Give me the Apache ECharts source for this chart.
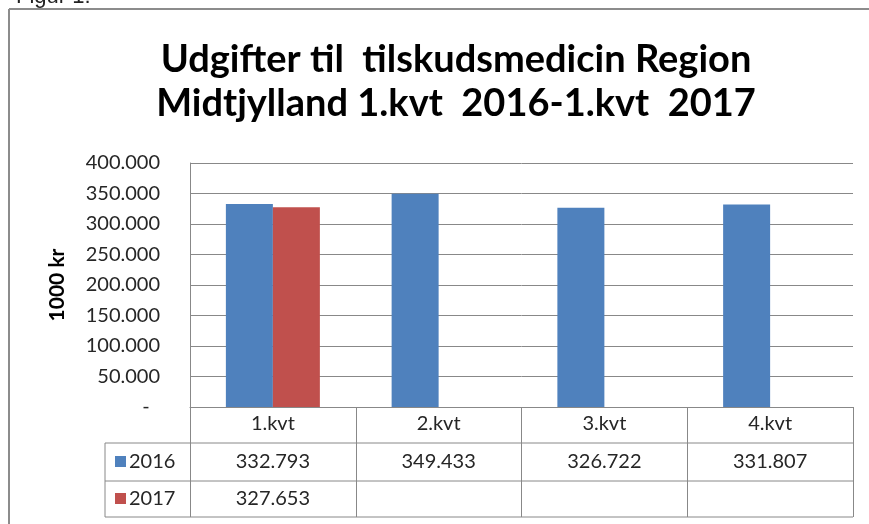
<!DOCTYPE html>
<html>
<head>
<meta charset="utf-8">
<script src="https://cdn.jsdelivr.net/npm/echarts@6/dist/echarts.min.js"></script>
<style>
html, body { margin: 0; padding: 0; background: #fff; }
#main { width: 869px; height: 524px; }
</style>
</head>
<body>
<div id="main"></div>
<script>
// data
var categories = ['1.kvt', '2.kvt', '3.kvt', '4.kvt'];
var seriesNames = ['2016', '2017'];
var values2016 = [332793, 349433, 326722, 331807];
var values2017 = [327653, null, null, null];
var colors = ['#4F81BD', '#C0504D'];

var gridColor = '#888888';
var textColor = '#262626';

// 350000 -> "350.000"
function fmt(v) {
    if (v == null) return '';
    return String(v).replace(/\B(?=(\d{3})+(?!\d))/g, '.');
}

var myChart = echarts.init(document.getElementById('main'));

myChart.setOption({
    animation: false,
    title: {
        text: 'Udgifter til  tilskudsmedicin Region\nMidtjylland 1.kvt  2016-1.kvt  2017',
        left: 451,
        top: 33,
        textAlign: 'center',
        textStyle: {
            fontFamily: 'Lato',
            fontWeight: 'bold',
            fontSize: 38,
            lineHeight: 44,
            color: '#000'
        }
    },
    grid: {
        left: 190,
        right: 16,
        top: 163,
        bottom: 117
    },
    xAxis: {
        type: 'category',
        data: categories,
        axisLine: { lineStyle: { color: gridColor, width: 1 } },
        axisTick: { show: true, length: 110, lineStyle: { color: gridColor } },
        axisLabel: {
            margin: 7,
            fontFamily: 'Lato',
            fontSize: 20,
            color: textColor
        }
    },
    yAxis: {
        type: 'value',
        min: 0,
        max: 400000,
        interval: 50000,
        name: '1000 kr',
        nameLocation: 'middle',
        nameGap: 122,
        nameRotate: 90,
        nameTextStyle: {
            fontFamily: 'Lato',
            fontWeight: 'bold',
            fontSize: 21,
            color: '#000'
        },
        axisLine: { show: true, lineStyle: { color: gridColor } },
        axisTick: { show: false },
        splitLine: { lineStyle: { color: gridColor, width: 1 } },
        axisLabel: {
            margin: 30,
            fontFamily: 'Lato',
            fontSize: 20,
            color: textColor,
            formatter: function (v) {
                return v === 0 ? '-  ' : fmt(v);
            }
        }
    },
    series: [
        {
            name: seriesNames[0],
            type: 'bar',
            data: values2016,
            barWidth: 47,
            barGap: '0%',
            itemStyle: { color: colors[0] }
        },
        {
            name: seriesNames[1],
            type: 'bar',
            data: values2017,
            barWidth: 47,
            itemStyle: { color: colors[1] }
        }
    ]
});

// data table under the axis, placed from the axis scale
var x0 = myChart.convertToPixel({ xAxisIndex: 0 }, 0);
var x1 = myChart.convertToPixel({ xAxisIndex: 0 }, 1);
var step = x1 - x0;
var tableLeft = 105;
var tableRight = x0 + step * (categories.length - 0.5);
var rowTops = [443, 481, 517];
var rows = [values2016, values2017];

var elements = [];
// outer frame of the picture
elements.push({ type: 'line', shape: { x1: 9, y1: 9, x2: 869, y2: 9 }, style: { stroke: '#8c8c8c', lineWidth: 2 } });
elements.push({ type: 'line', shape: { x1: 9, y1: 9, x2: 9, y2: 524 }, style: { stroke: '#8c8c8c', lineWidth: 2 } });
elements.push({ type: 'text', left: 16, top: -14, style: { text: 'Figur 1:', font: '22px Liberation Sans', fill: '#222' } });

// table lines
rowTops.forEach(function (y) {
    elements.push({ type: 'line', shape: { x1: tableLeft, y1: y, x2: tableRight, y2: y }, style: { stroke: gridColor, lineWidth: 1 } });
});
elements.push({ type: 'line', shape: { x1: tableLeft, y1: rowTops[0], x2: tableLeft, y2: rowTops[2] }, style: { stroke: gridColor, lineWidth: 1 } });

rows.forEach(function (vals, r) {
    var cy = (rowTops[r] + rowTops[r + 1]) / 2;
    // legend key + series name
    elements.push({ type: 'rect', shape: { x: 115, y: cy - 6, width: 11, height: 11 }, style: { fill: colors[r] } });
    elements.push({ type: 'text', x: 129, y: cy, style: { text: seriesNames[r], font: '20px Lato', fill: textColor, textVerticalAlign: 'middle' } });
    vals.forEach(function (v, i) {
        var cx = myChart.convertToPixel({ xAxisIndex: 0 }, i);
        elements.push({ type: 'text', x: cx, y: cy, style: { text: fmt(v), font: '20px Lato', fill: textColor, textAlign: 'center', textVerticalAlign: 'middle' } });
    });
});

myChart.setOption({ graphic: elements });
</script>
</body>
</html>
